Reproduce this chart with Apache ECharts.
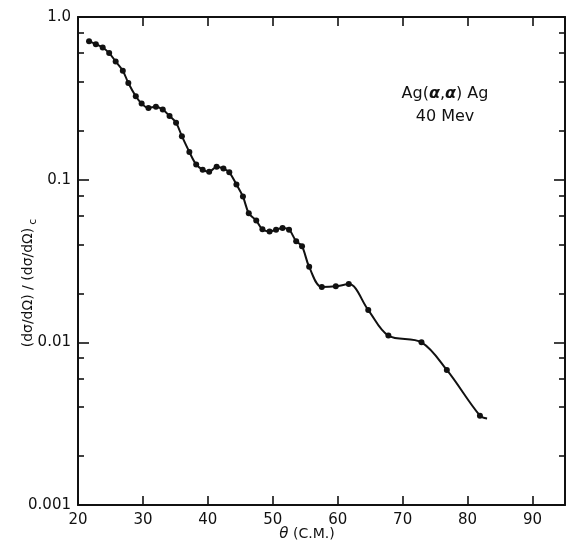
<!DOCTYPE html>
<html><head><meta charset="utf-8">
<script src="https://cdn.jsdelivr.net/npm/echarts@6/dist/echarts.min.js"></script>
<style>html,body{margin:0;padding:0;background:#fff}#c{width:566px;height:542px}</style>
</head><body><div id="c"></div>
<script>
// Scattering angle (C.M., degrees) of measured points
const theta = [21.7, 22.75, 23.8, 24.8, 25.8, 26.9, 27.75, 28.9, 29.8, 30.85,
  32.0, 33.05, 34.1, 35.1, 36.0, 37.15, 38.2, 39.2, 40.2, 41.35,
  42.4, 43.3, 44.4, 45.4, 46.3, 47.45, 48.4, 49.5, 50.5, 51.5,
  52.5, 53.6, 54.5, 55.6, 57.55, 59.7, 61.7, 64.7, 67.8, 72.9,
  76.8, 81.9];
// Ratio to Coulomb cross section
const ratio = [0.71, 0.68, 0.649, 0.60, 0.533, 0.468, 0.393, 0.326, 0.294, 0.276,
  0.281, 0.27, 0.246, 0.224, 0.185, 0.148, 0.124, 0.115, 0.112, 0.12,
  0.117, 0.111, 0.0935, 0.0788, 0.0622, 0.0561, 0.0495, 0.048, 0.0493, 0.0505,
  0.0493, 0.0418, 0.039, 0.0291, 0.0219, 0.0221, 0.0228, 0.0158, 0.011, 0.0100,
  0.00676, 0.00354];
// Fitted curve continues slightly past the last point
const curveEndTheta = [83.0];
const curveEndRatio = [0.0034];
const xTickLabels = ['20','30','40','50','60','70','80','90'];
const yTickLabels = ['0.001','0.01','0.1','1.0'];
const yMinor = [0.002,0.004,0.006,0.008,0.02,0.04,0.06,0.08,0.2,0.4,0.6,0.8];

const FONT = 'DejaVu Sans';
const BLACK = '#111';

const lineData = theta.map((t,i)=>[t, ratio[i]]).concat(
  curveEndTheta.map((t,i)=>({value:[t, curveEndRatio[i]], symbol:'none'})));

function yLabel(v){
  const e = Math.round(Math.log10(v));
  return yTickLabels[e + 3] || '';
}

function xAx(pos, showLabel){
  return {
    type:'value', position:pos, min:20, max:95, interval:10,
    axisLine:{show:true, lineStyle:{color:BLACK, width:2}},
    axisTick:{show:true, inside:true, length:9, lineStyle:{color:BLACK, width:1.6}},
    axisLabel:{show:showLabel, showMaxLabel:false, color:BLACK, fontFamily:FONT, fontSize:15, margin:8,
      formatter:v=>{const i=Math.round((v-20)/10); return xTickLabels[i]||'';}},
    splitLine:{show:false}
  };
}
function yAx(pos, minor){
  const a = {
    type:'log', logBase:10, position:pos, min:0.001, max:1,
    axisLine:{show:!minor, lineStyle:{color:BLACK, width:2}},
    axisTick:{show:true, inside:true, length: minor?6:11, lineStyle:{color:BLACK, width:1.6}},
    axisLabel:{show:(!minor && pos==='left'), color:BLACK, fontFamily:FONT, fontSize:15, margin:7, formatter:yLabel},
    splitLine:{show:false}, minorTick:{show:false}
  };
  if (minor) a.axisTick.customValues = yMinor;
  return a;
}

const chart = echarts.init(document.getElementById('c'), null, {renderer:'canvas'});
chart.setOption({
  backgroundColor:'#fff',
  animation:false,
  grid:{left:78, right:1, top:17, bottom:37},
  xAxis:[xAx('bottom', true), xAx('top', false)],
  yAxis:[yAx('left', false), yAx('left', true), yAx('right', false), yAx('right', true)],
  series:[{
    type:'line', xAxisIndex:0, yAxisIndex:0, data:lineData,
    smooth:0.35, symbol:'circle', symbolSize:6,
    lineStyle:{color:BLACK, width:2}, itemStyle:{color:BLACK}
  }],
  graphic:[
    {type:'text', x:28, y:283, rotation:Math.PI/2,
      style:{text:'(dσ/dΩ) / (dσ/dΩ){c|c}', fill:BLACK, font:'14px '+FONT, align:'center', verticalAlign:'middle',
        rich:{c:{fontSize:11, fontFamily:FONT, fill:BLACK, padding:[10,0,0,3]}}}},
    {type:'text', x:307, y:534,
      style:{text:'{t|θ} (C.M.)', fill:BLACK, font:'14px '+FONT, align:'center', verticalAlign:'middle',
        rich:{t:{fontStyle:'italic', fontSize:15, fontFamily:FONT, fill:BLACK}}}},
    {type:'text', x:445, y:94,
      style:{text:'Ag({a|α},{a|α}) Ag', fill:BLACK, font:'16px '+FONT, align:'center', verticalAlign:'middle',
        rich:{a:{fontStyle:'italic', fontWeight:'bold', fontSize:16, fontFamily:FONT, fill:BLACK}}}},
    {type:'text', x:445, y:117,
      style:{text:'40 Mev', fill:BLACK, font:'16px '+FONT, align:'center', verticalAlign:'middle'}}
  ]
});
</script>
</body></html>
